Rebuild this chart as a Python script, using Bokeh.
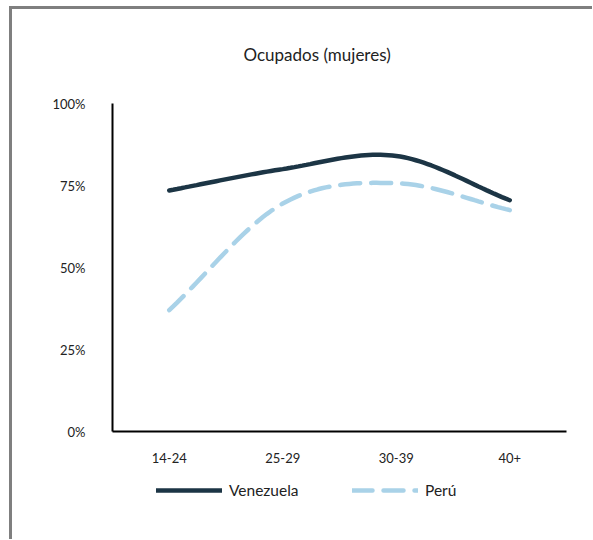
from bokeh.plotting import figure
from bokeh.layouts import column
from bokeh.models import (FixedTicker, NumeralTickFormatter, Legend, LegendItem,
                          Range1d, Title)
from bokeh.embed import file_html
from bokeh.resources import INLINE
import numpy as np

categories = ["14-24", "25-29", "30-39", "40+"]
venezuela = [0.735, 0.80, 0.84, 0.705]
peru = [0.37, 0.695, 0.757, 0.675]
series_names = ["Venezuela", "Perú"]

FONT = "Lato"
NAVY = "#1c3545"
LIGHT = "#a9d2e8"
BAR = "linear-gradient(#7f7f7f,#7f7f7f)"

xs = [i + 0.5 for i in range(len(categories))]


def smooth(x, y, n=30):
    x = np.asarray(x, float)
    y = np.asarray(y, float)
    px = np.concatenate([[2 * x[0] - x[1]], x, [2 * x[-1] - x[-2]]])
    py = np.concatenate([[2 * y[0] - y[1]], y, [2 * y[-1] - y[-2]]])
    ox, oy = [], []
    for i in range(1, len(px) - 2):
        p0, p1, p2, p3 = (np.array([px[j], py[j]]) for j in range(i - 1, i + 3))
        c1 = p1 + (p2 - p0) / 6.0
        c2 = p2 - (p3 - p1) / 6.0
        t = np.linspace(0, 1, n)[:, None]
        b = ((1 - t) ** 3) * p1 + 3 * ((1 - t) ** 2) * t * c1 + 3 * (1 - t) * t ** 2 * c2 + t ** 3 * p2
        if i > 1:
            b = b[1:]
        ox.extend(b[:, 0])
        oy.extend(b[:, 1])
    return ox, oy


p = figure(width=592, height=470, output_backend="svg", toolbar_location=None,
           x_range=Range1d(0, 4), y_range=Range1d(0, 1),
           min_border_left=112, min_border_right=26, min_border_top=103,
           min_border_bottom=39)
p.border_fill_alpha = 0
p.background_fill_alpha = 0
p.styles = {
    "background": (f"{BAR} 9px 6px / 3px 100% no-repeat, "
                   f"{BAR} 9px 6px / 100% 3px no-repeat, #ffffff"),
}

t = Title(text="Ocupados (mujeres)", align="left", offset=131,
          text_font=FONT, text_font_size="17px", text_font_style="normal",
          text_color="#222222", standoff=78)
p.add_layout(t, "above")

vx, vy = smooth(xs, venezuela)
px_, py_ = smooth(xs, peru)
line_styles = [dict(line_color=NAVY, line_width=4.5, line_cap="round"),
               dict(line_color=LIGHT, line_width=4.5, line_dash="20 11",
                    line_cap="round")]
p.line(vx, vy, **line_styles[0])
p.line(px_, py_, **line_styles[1])

p.xgrid.visible = False
p.ygrid.visible = False
p.outline_line_color = None

p.xaxis.ticker = FixedTicker(ticks=xs)
p.xaxis.major_label_overrides = {x: c for x, c in zip(xs, categories)}
p.yaxis.ticker = FixedTicker(ticks=[0, 0.25, 0.5, 0.75, 1.0])
p.yaxis.formatter = NumeralTickFormatter(format="0%")
for ax in (p.xaxis, p.yaxis):
    ax.axis_line_width = 2
    ax.axis_line_color = "black"
    ax.major_tick_line_color = None
    ax.minor_tick_line_color = None
    ax.major_label_text_font = FONT
    ax.major_label_text_font_size = "13px"
    ax.major_label_text_color = "#222222"
p.xaxis.major_label_standoff = 15
p.yaxis.major_label_standoff = 21

# legend strip below the chart (same series; its view range hides the lines)
lf = figure(width=592, height=69, output_backend="svg", toolbar_location=None,
            x_range=Range1d(100, 101), y_range=Range1d(100, 101),
            x_axis_type=None, y_axis_type=None,
            min_border_left=0, min_border_right=0, min_border_top=0,
            min_border_bottom=0)
lf.border_fill_alpha = 0
lf.background_fill_alpha = 0
lf.outline_line_color = None
lf.xgrid.visible = False
lf.ygrid.visible = False
lf.styles = {"background": f"{BAR} 9px 0px / 3px 100% no-repeat, #ffffff"}
items = []
for name, (sx, sy), st in zip(series_names, [(vx, vy), (px_, py_)], line_styles):
    r = lf.line(sx, sy, **st)
    items.append(LegendItem(label=name, renderers=[r]))

legend = Legend(items=items, orientation="horizontal", location=(44, 39),
                glyph_width=66, glyph_height=20, label_standoff=7, spacing=26,
                label_width=97, padding=0, margin=0,
                border_line_alpha=0, background_fill_alpha=0,
                label_text_font=FONT, label_text_font_size="15.5px",
                label_text_color="#222222")
lf.add_layout(legend, "center")

layout = column(p, lf, spacing=0)
open("out.html", "w").write(file_html(layout, INLINE))
